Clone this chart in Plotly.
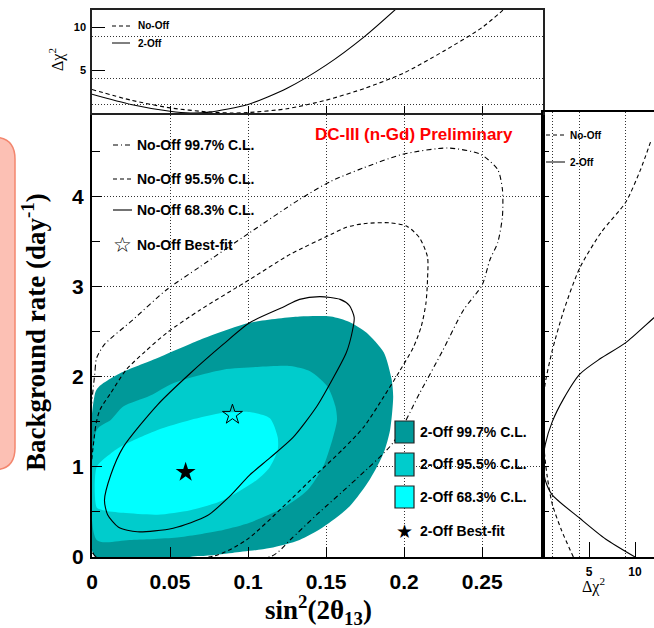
import plotly.graph_objects as go

W, H = 654, 628


def fx(p):
    return p / W


def fy(p):
    return 1 - p / H


# ---------------- data ----------------
sin2_ticks = [0, 0.05, 0.1, 0.15, 0.2, 0.25]
sin2_tick_labels = ["0", "0.05", "0.1", "0.15", "0.2", "0.25"]
bkg_ticks = [0, 1, 2, 3, 4]
bkg_tick_labels = ["0", "1", "2", "3", "4"]
chi2_ticks = [5, 10]
chi2_tick_labels = ["5", "10"]
chi2_levels = [1, 4, 9]

# 2-Off allowed regions (sin^2 2theta13, background rate)
off2_997_x = [0.002, 0.002, 0.005, 0.018, 0.042, 0.069, 0.101, 0.133, 0.153, 0.165, 0.176, 0.187,
              0.192, 0.193, 0.191, 0.187, 0.178, 0.165, 0.148, 0.133, 0.114, 0.090, 0.069, 0.002]
off2_997_y = [0.01, 1.82, 1.90, 2.04, 2.21, 2.41, 2.60, 2.67, 2.67, 2.61, 2.49, 2.27,
              1.97, 1.78, 1.41, 1.16, 0.86, 0.56, 0.33, 0.19, 0.10, 0.045, 0.01, 0.01]

off2_955_x = [0.003, 0.003, 0.012, 0.020, 0.037, 0.052, 0.084, 0.106, 0.127, 0.140, 0.151, 0.156,
              0.157, 0.154, 0.148, 0.138, 0.122, 0.101, 0.084, 0.056, 0.024, 0.003]
off2_955_y = [0.19, 1.41, 1.52, 1.67, 1.79, 1.93, 2.08, 2.11, 2.12, 2.06, 1.89, 1.67,
              1.52, 1.30, 1.00, 0.74, 0.54, 0.38, 0.30, 0.22, 0.19, 0.19]

off2_683_x = [0.003, 0.003, 0.012, 0.020, 0.042, 0.063, 0.084, 0.101, 0.114, 0.119, 0.119, 0.114,
              0.106, 0.084, 0.063, 0.042, 0.020, 0.007, 0.003]
off2_683_y = [0.55, 1.00, 1.15, 1.24, 1.41, 1.52, 1.60, 1.61, 1.54, 1.33, 1.19, 1.00,
              0.86, 0.63, 0.52, 0.47, 0.49, 0.52, 0.55]

# No-Off contours
nooff_683_x = [0.008, 0.010, 0.017, 0.029, 0.052, 0.074, 0.088, 0.101, 0.114, 0.129, 0.144, 0.154,
               0.163, 0.167, 0.168, 0.165, 0.159, 0.146, 0.133, 0.122, 0.101, 0.084, 0.063, 0.042,
               0.020, 0.012, 0.008]
nooff_683_y = [0.63, 0.47, 0.33, 0.28, 0.32, 0.46, 0.67, 0.91, 1.10, 1.33, 1.67, 1.97,
               2.27, 2.52, 2.66, 2.79, 2.86, 2.89, 2.86, 2.77, 2.60, 2.36, 2.04, 1.69,
               1.22, 0.91, 0.63]

nooff_955_x = [0.002, 0.002, 0.005, 0.012, 0.022, 0.034, 0.048, 0.069, 0.101, 0.127, 0.153, 0.163,
               0.174, 0.191, 0.202, 0.210, 0.215, 0.215, 0.214, 0.211, 0.206, 0.197, 0.187, 0.174,
               0.161, 0.144, 0.122, 0.099, 0.078, 0.002]
nooff_955_y = [0.01, 1.41, 1.63, 1.82, 2.08, 2.28, 2.49, 2.74, 3.08, 3.36, 3.58, 3.66,
               3.70, 3.71, 3.67, 3.54, 3.33, 3.08, 2.82, 2.56, 2.33, 2.06, 1.78, 1.44,
               1.20, 0.92, 0.55, 0.19, 0.01, 0.01]

nooff_997_x = [0.002, 0.002, 0.003, 0.008, 0.026, 0.048, 0.069, 0.101, 0.133, 0.153, 0.174, 0.199,
               0.228, 0.249, 0.260, 0.263, 0.263, 0.260, 0.255, 0.250, 0.238, 0.225, 0.210, 0.193,
               0.169, 0.144, 0.127, 0.115, 0.002]
nooff_997_y = [0.01, 2.08, 2.21, 2.36, 2.63, 2.97, 3.22, 3.60, 3.97, 4.17, 4.32, 4.47,
               4.54, 4.47, 4.30, 4.08, 3.78, 3.49, 3.30, 3.02, 2.74, 2.30, 1.82, 1.27,
               0.86, 0.47, 0.19, 0.01, 0.01]

# best fits
nooff_best = (0.090, 1.58)
off2_best = (0.060, 0.94)

# Delta chi2 profiles vs sin^2 2theta13 (top panel)
top_2off_x = [0.0, 0.025, 0.05, 0.063, 0.075, 0.1, 0.125, 0.15, 0.175, 0.195]
top_2off_y = [2.2, 1.0, 0.2, 0.0, 0.1, 1.0, 2.9, 5.6, 9.0, 12.2]
top_nooff_x = [0.0, 0.025, 0.05, 0.075, 0.09, 0.1, 0.125, 0.15, 0.175, 0.2, 0.225, 0.25, 0.265]
top_nooff_y = [2.75, 1.5, 0.6, 0.12, 0.0, 0.05, 0.5, 1.5, 2.9, 4.7, 7.2, 10.0, 12.3]

# Delta chi2 profiles vs background rate (right panel)
right_2off_b = [0.0, 0.2, 0.43, 0.69, 0.85, 1.03, 1.25, 1.5, 1.75, 2.03, 2.2, 2.38, 2.66, 2.75]
right_2off_c = [10.0, 6.8, 4.0, 1.0, 0.25, 0.0, 0.25, 1.0, 2.2, 4.0, 6.2, 9.0, 12.1, 13.2]
right_nooff_b = [0.0, 0.3, 0.59, 0.9, 1.2, 1.57, 1.9, 2.29, 2.75, 3.21, 3.6, 3.94, 4.3, 4.64]
right_nooff_c = [3.3, 2.0, 1.0, 0.45, 0.12, 0.0, 0.2, 1.0, 2.3, 4.0, 6.3, 9.0, 10.6, 11.8]

# colours / text
c997, c955, c683 = "#009999", "#00cccc", "#00ffff"
main_legend = ["No-Off 99.7% C.L.", "No-Off 95.5% C.L.", "No-Off 68.3% C.L.", "No-Off Best-fit"]
off_legend = ["2-Off 99.7% C.L.", "2-Off 95.5% C.L.", "2-Off 68.3% C.L.", "2-Off Best-fit"]

DASHDOT = "5px,3px,1px,3px"
DASH = "4px,3px"
GRIDDOT = "1px,2px"

fig = go.Figure()


def add_fill(x, y, color):
    fig.add_trace(go.Scatter(x=x, y=y, mode="lines", fill="toself", fillcolor=color,
                             line=dict(width=0, shape="spline", smoothing=0.7, color=color),
                             hoverinfo="skip", showlegend=False, xaxis="x", yaxis="y"))


def add_line(x, y, dash, xa="x", ya="y", width=1.1):
    fig.add_trace(go.Scatter(x=x, y=y, mode="lines",
                             line=dict(color="black", width=width, dash=dash, shape="spline", smoothing=0.7),
                             hoverinfo="skip", showlegend=False, xaxis=xa, yaxis=ya))


add_fill(off2_997_x, off2_997_y, c997)
add_fill(off2_955_x, off2_955_y, c955)
add_fill(off2_683_x, off2_683_y, c683)
add_line(nooff_997_x, nooff_997_y, DASHDOT)
add_line(nooff_955_x, nooff_955_y, DASH)
add_line(nooff_683_x, nooff_683_y, "solid")

fig.add_trace(go.Scatter(x=[nooff_best[0]], y=[nooff_best[1]], mode="markers",
                         marker=dict(symbol="star-open", size=15, color="black", line=dict(width=1)),
                         hoverinfo="skip", showlegend=False, xaxis="x", yaxis="y"))
fig.add_trace(go.Scatter(x=[off2_best[0]], y=[off2_best[1]], mode="markers",
                         marker=dict(symbol="star", size=15, color="black"),
                         hoverinfo="skip", showlegend=False, xaxis="x", yaxis="y"))

# top panel
add_line(top_nooff_x, top_nooff_y, DASH, "x2", "y2")
add_line(top_2off_x, top_2off_y, "solid", "x2", "y2")
# right panel
add_line(right_nooff_c, right_nooff_b, DASH, "x3", "y3")
add_line(right_2off_c, right_2off_b, "solid", "x3", "y3")

bold_sans = dict(family="Liberation Sans, Arial, sans-serif", color="black", weight="bold")

x_main_dom = [fx(92), fx(543)]
y_main_dom = [fy(557), fy(112)]
x_range = [0, 0.289]
y_range = [0, 4.94]

fig.update_layout(
    width=W, height=H, margin=dict(l=0, r=0, t=0, b=0, autoexpand=False),
    paper_bgcolor="white", plot_bgcolor="white", showlegend=False,
    xaxis=dict(domain=x_main_dom, range=x_range, anchor="y", automargin=False,
               tickvals=sin2_ticks, ticktext=sin2_tick_labels,
               ticks="inside", ticklen=10, tickwidth=1.2, tickcolor="black",
               showline=True, linewidth=2.2, linecolor="black", mirror=True,
               showgrid=True, gridcolor="#333", gridwidth=1, griddash=GRIDDOT,
               zeroline=False, tickfont=dict(size=21, **bold_sans), ticklabelstandoff=5),
    yaxis=dict(domain=y_main_dom, range=y_range, anchor="x", automargin=False,
               tickvals=bkg_ticks, ticktext=bkg_tick_labels,
               ticks="inside", ticklen=10, tickwidth=1.2, tickcolor="black",
               minor=dict(dtick=0.5, ticks="inside", ticklen=8, tickcolor="black", showgrid=False),
               showline=True, linewidth=2.2, linecolor="black", mirror=True,
               showgrid=True, gridcolor="#333", gridwidth=1, griddash=GRIDDOT,
               zeroline=False, tickfont=dict(size=21, **bold_sans), ticklabelstandoff=2),
    xaxis2=dict(domain=x_main_dom, range=x_range, anchor="y2", automargin=False,
                tickvals=sin2_ticks, showticklabels=False,
                ticks="inside", ticklen=7, tickcolor="black", tickwidth=1,
                showline=True, linewidth=1.5, linecolor="#222", mirror=True,
                showgrid=False, zeroline=False),
    yaxis2=dict(domain=[fy(113), fy(10)], range=[0, 12.05], anchor="x2", automargin=False,
                tickvals=[5, 10], ticktext=["5", "10"],
                ticks="inside", ticklen=13, tickcolor="black", tickwidth=1.2,
                minor=dict(tickvals=chi2_levels, ticks="", showgrid=True, gridcolor="#333",
                           gridwidth=1, griddash=GRIDDOT),
                showline=True, linewidth=1.5, linecolor="#222", mirror=True,
                showgrid=False, zeroline=False, tickfont=dict(size=11, **bold_sans),
                ticklabelstandoff=2),
    xaxis3=dict(domain=[fx(543), 1.0], range=[0, (654 - 543) / 9.2], anchor="y3", automargin=False,
                tickvals=chi2_ticks, ticktext=chi2_tick_labels,
                ticks="inside", ticklen=15, tickcolor="black", tickwidth=1.2,
                minor=dict(tickvals=chi2_levels, ticks="", showgrid=True, gridcolor="#333",
                           gridwidth=1, griddash=GRIDDOT),
                showline=True, linewidth=2.2, linecolor="black", mirror=True,
                showgrid=False, zeroline=False, tickfont=dict(size=12, **bold_sans),
                ticklabelstandoff=2),
    yaxis3=dict(domain=y_main_dom, range=y_range, anchor="x3", automargin=False,
                dtick=0.5, tick0=0, showticklabels=False,
                ticks="inside", ticklen=6, tickcolor="black", tickwidth=1,
                showline=True, linewidth=2.2, linecolor="black", mirror=False,
                showgrid=False, zeroline=False),
)

shapes = []
annots = []

# pink rounded box at the left
r = 22
bx = 15
path = (f"M {fx(-30)},{fy(137)} L {fx(bx - r)},{fy(137)} Q {fx(bx)},{fy(137)} {fx(bx)},{fy(137 + r)} "
        f"L {fx(bx)},{fy(470 - r)} Q {fx(bx)},{fy(470)} {fx(bx - r)},{fy(470)} L {fx(-30)},{fy(470)} Z")
shapes.append(dict(type="path", path=path, xref="paper", yref="paper",
                   fillcolor="#fcc0b4", line=dict(color="#f3866e", width=1.5), layer="below"))

# axis titles
annots.append(dict(text="<b>sin<sup>2</sup>(2θ<sub>13</sub>)</b>", x=fx(318), y=fy(610), xref="paper", yref="paper",
                   showarrow=False, xanchor="center", yanchor="middle",
                   font=dict(family="Liberation Serif, Times New Roman, serif", size=27, color="black")))
annots.append(dict(text="<b>Background rate (day<sup>-1</sup>)</b>", x=fx(34), y=fy(332), xref="paper", yref="paper",
                   showarrow=False, textangle=-90, xanchor="center", yanchor="middle",
                   font=dict(family="Liberation Serif, Times New Roman, serif", size=27, color="black")))
annots.append(dict(text="Δχ<sup>2</sup>", x=fx(57), y=fy(60), xref="paper", yref="paper",
                   showarrow=False, textangle=-90, xanchor="center", yanchor="middle",
                   font=dict(family="Liberation Serif, Times New Roman, serif", size=16, color="black")))
annots.append(dict(text="Δχ<sup>2</sup>", x=fx(593), y=fy(585), xref="paper", yref="paper",
                   showarrow=False, xanchor="center", yanchor="middle",
                   font=dict(family="Liberation Serif, Times New Roman, serif", size=16, color="black")))

# red label
annots.append(dict(text="DC-III (n-Gd) Preliminary", x=fx(515), y=fy(134), xref="paper", yref="paper",
                   showarrow=False, xanchor="right", yanchor="middle",
                   font=dict(size=17, family="Liberation Sans, Arial, sans-serif", color="red", weight="bold")))

# main No-Off legend
leg_y = [145, 179, 210, 245]
leg_dash = [DASHDOT, DASH, "solid"]
for i in range(3):
    shapes.append(dict(type="line", xref="paper", yref="paper", x0=fx(113), x1=fx(132),
                       y0=fy(leg_y[i]), y1=fy(leg_y[i]), line=dict(color="black", width=1.1, dash=leg_dash[i])))
for i, t in enumerate(main_legend):
    annots.append(dict(text=t, x=fx(135), y=fy(leg_y[i]), xref="paper", yref="paper", showarrow=False,
                       xanchor="left", yanchor="middle", font=dict(size=14, **bold_sans)))
annots.append(dict(text="☆", x=fx(122), y=fy(leg_y[3]), xref="paper", yref="paper", showarrow=False,
                   xanchor="center", yanchor="middle",
                   font=dict(size=21, family="DejaVu Sans", color="black")))

# 2-Off legend
box_y = [(421, 443), (453, 476), (486, 508)]
for (a, b), c in zip(box_y, [c997, c955, c683]):
    shapes.append(dict(type="rect", xref="paper", yref="paper", x0=fx(395), x1=fx(414),
                       y0=fy(b), y1=fy(a), fillcolor=c, line=dict(color="#222", width=1.2)))
off_y = [432, 464, 497, 531]
for i, t in enumerate(off_legend):
    annots.append(dict(text=t, x=fx(418), y=fy(off_y[i]), xref="paper", yref="paper", showarrow=False,
                       xanchor="left", yanchor="middle", font=dict(size=14, **bold_sans)))
annots.append(dict(text="★", x=fx(405), y=fy(531), xref="paper", yref="paper", showarrow=False,
                   xanchor="center", yanchor="middle",
                   font=dict(size=19, family="DejaVu Sans", color="black")))

# small legends of the side panels
for (lx0, lx1, tx, y1, y2) in [(112, 130, 136, 26, 43), (546, 565, 568, 135, 162)]:
    shapes.append(dict(type="line", xref="paper", yref="paper", x0=fx(lx0), x1=fx(lx1),
                       y0=fy(y1), y1=fy(y1), line=dict(color="black", width=1, dash=DASH)))
    shapes.append(dict(type="line", xref="paper", yref="paper", x0=fx(lx0), x1=fx(lx1),
                       y0=fy(y2), y1=fy(y2), line=dict(color="black", width=1)))
    annots.append(dict(text="No-Off", x=fx(tx), y=fy(y1), xref="paper", yref="paper", showarrow=False,
                       xanchor="left", yanchor="middle", font=dict(size=10, **bold_sans)))
    annots.append(dict(text="2-Off", x=fx(tx), y=fy(y2), xref="paper", yref="paper", showarrow=False,
                       xanchor="left", yanchor="middle", font=dict(size=10, **bold_sans)))

fig.update_layout(shapes=shapes, annotations=annots)
fig.write_html("out.html", config={"displayModeBar": False},
               post_script="document.body.style.margin='0';document.body.style.overflow='hidden';")
